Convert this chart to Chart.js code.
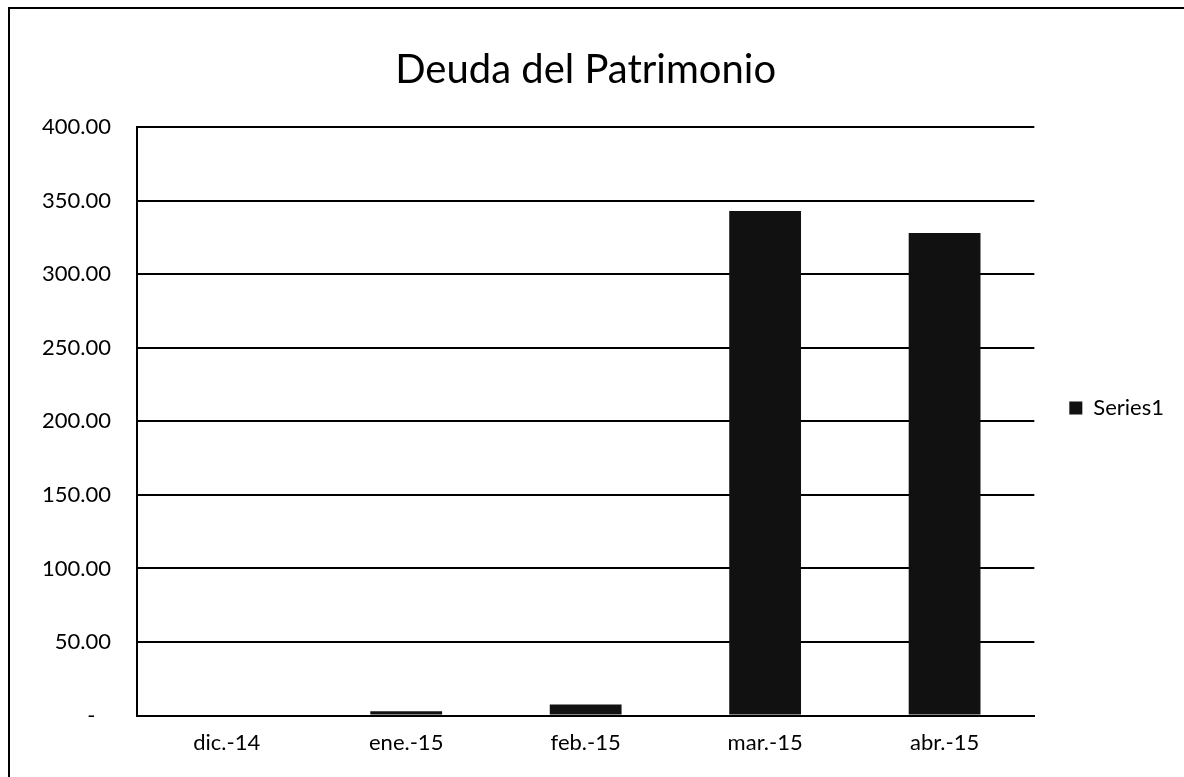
<!DOCTYPE html>
<html>
<head>
<meta charset="utf-8">
<script src="https://cdn.jsdelivr.net/npm/chart.js@4.4.0/dist/chart.umd.min.js"></script>
<style>
  html, body { margin: 0; padding: 0; background: #fff; }
  #caja { position: absolute; left: 8px; top: 7px; width: 1176px; height: 770px; border-left: 2px solid #000; border-top: 2px solid #000; box-sizing: border-box; }
  #lienzo { position: absolute; left: 0; top: 0; }
</style>
</head>
<body>
<div id="caja"></div>
<canvas id="lienzo" width="1184" height="777"></canvas>
<script>
// datos de la grafica
const categorias = ["dic.-14", "ene.-15", "feb.-15", "mar.-15", "abr.-15"];
const valores = [0, 3, 7.5, 343, 328];
const nombreSerie = "Series1";
const titulo = "Deuda del Patrimonio";

var ctx = document.getElementById("lienzo").getContext('2d');
var miGrafica = new Chart(ctx, {
    type: 'bar',
    data: {
        labels: categorias,
        datasets: [{
            label: nombreSerie,
            data: valores,
            backgroundColor: '#111',
            borderWidth: 0,
            categoryPercentage: 1,
            barPercentage: 0.4
        }]
    },
    options: {
        responsive: false,
        animation: false,
        layout: { padding: { left: 16, right: 10, top: 46, bottom: 7 } },
        plugins: {
            title: {
                display: true,
                text: titulo,
                color: '#000',
                fullSize: false,
                font: { family: 'Lato', size: 40, weight: 'normal' },
                padding: { top: 0, bottom: 33 }
            },
            legend: {
                position: 'right',
                labels: {
                    color: '#000',
                    font: { family: 'Lato', size: 22 },
                    boxWidth: 13,
                    boxHeight: 13,
                    padding: 35
                }
            },
            tooltip: { enabled: false }
        },
        scales: {
            x: {
                grid: { display: false, drawTicks: false },
                border: { color: '#000', width: 2 },
                ticks: { color: '#000', font: { family: 'Lato', size: 22 }, padding: 14 }
            },
            y: {
                min: 0,
                max: 400,
                ticks: {
                    stepSize: 50,
                    color: '#000',
                    font: { family: 'Lato', size: 22 },
                    padding: 26,
                    // formato contable de Excel: el cero sale como guion
                    callback: function(v) { return v === 0 ? '-\u2007\u2009' : v.toFixed(2); }
                },
                grid: { color: '#000', lineWidth: 2, drawTicks: false },
                border: { color: '#000', width: 2 }
            }
        }
    }
});
</script>
</body>
</html>
